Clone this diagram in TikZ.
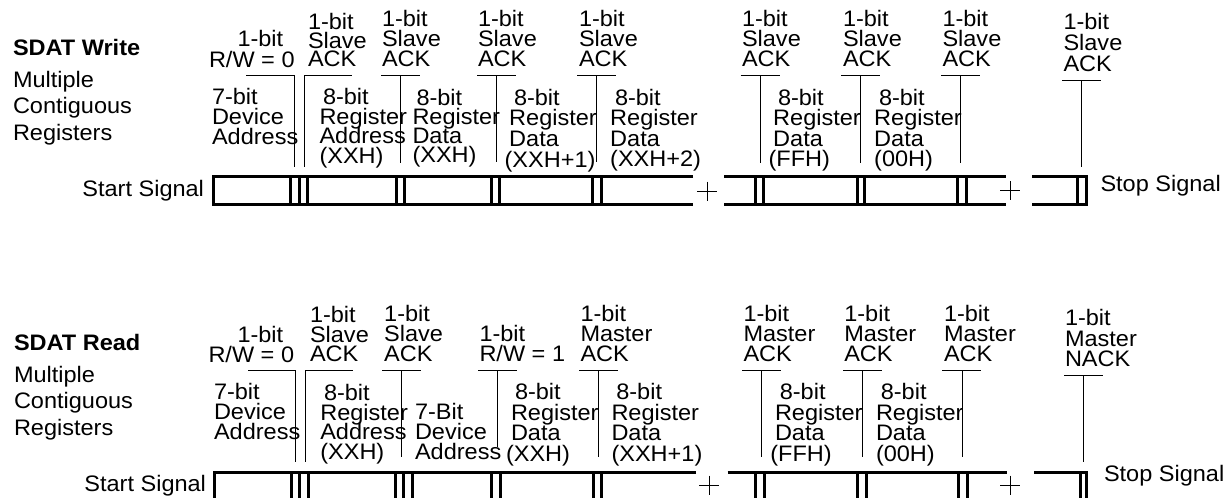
\documentclass[tikz,border=0pt]{standalone}
\usepackage{fontspec}
\setmainfont{Liberation Sans}[FakeStretch=1.05]
\newcommand\stk[2]{\vtop{\baselineskip=#1pt\lineskiplimit=-100pt\lineskip=0pt\halign{##\hfil\cr#2\crcr}}}
\tikzset{
  lbl/.style={anchor=base west, inner sep=0pt, outer sep=0pt, font=\fontsize{22.4}{20}\selectfont},
  bar/.style={line width=3pt, line join=miter},
  lead/.style={line width=1pt},
  crossmark/.style={line width=1pt}
}
\begin{document}
\begin{tikzpicture}[x=1pt,y=-1pt]
\useasboundingbox (0,0) rectangle (1229,498);
\fill[white] (0,0) rectangle (1229,498);
\clip (0,0) rectangle (1229,498);

% ================= WRITE =================
\node[lbl] (wtitle) at (13,55) {\bfseries SDAT Write};
\node[lbl] (wsub) at (13,87) {\stk{26.5}{Multiple\cr Contiguous\cr Registers}};
\node[lbl, anchor=base east] (wstart) at (204,196.7) {Start Signal};
\node[lbl] (wstop) at (1100.5,191.7) {Stop Signal};

\node[lbl] (wrw) at (209,46) {\stk{21}{\hspace*{28.5pt}1-bit\cr R/W = 0}};
\node[lbl] (wa1) at (308,29.6) {\stk{18.5}{1-bit\cr Slave\cr ACK}};
\node[lbl] (wa2) at (382,26) {\stk{20.2}{1-bit\cr Slave\cr ACK}};
\node[lbl] (wa3) at (478,26) {\stk{20.2}{1-bit\cr Slave\cr ACK}};
\node[lbl] (wa4) at (579,26) {\stk{20.2}{1-bit\cr Slave\cr ACK}};
\node[lbl] (wa5) at (742,26) {\stk{20.2}{1-bit\cr Slave\cr ACK}};
\node[lbl] (wa6) at (843,26) {\stk{20.2}{1-bit\cr Slave\cr ACK}};
\node[lbl] (wa7) at (942.5,26) {\stk{20.2}{1-bit\cr Slave\cr ACK}};
\node[lbl] (wa8) at (1063.5,29.3) {\stk{21.2}{1-bit\cr Slave\cr ACK}};

\node[lbl] (wdev) at (212,104.3) {\stk{20}{7-bit\cr Device\cr Address}};
\node[lbl] (wreg) at (319.5,104.8) {\stk{19.5}{\hspace*{3.5pt}8-bit\cr Register\cr Address\cr (XXH)}};
\node[lbl] (wd0) at (412.5,105.3) {\stk{19}{\hspace*{4pt}8-bit\cr Register\cr Data\cr (XXH)}};
\node[lbl] (wd1) at (509.2,105.3) {\stk{20.6}{\hspace*{4.8pt}8-bit\cr Register\cr Data\cr \hspace*{-4.6pt}(XXH+1)}};
\node[lbl] (wd2) at (610.2,105.3) {\stk{20.4}{\hspace*{4.8pt}8-bit\cr Register\cr Data\cr (XXH+2)}};
\node[lbl] (wdf) at (773.2,105.3) {\stk{20.4}{\hspace*{4.8pt}8-bit\cr Register\cr Data\cr \hspace*{-4.6pt}(FFH)}};
\node[lbl] (wdz) at (874.2,105.3) {\stk{20.4}{\hspace*{4.8pt}8-bit\cr Register\cr Data\cr (00H)}};

% leaders
\draw[lead] (246,75.3) -- (294.3,75.3) -- (294.3,166.7);
\draw[lead] (351.7,75.3) -- (304.3,75.3) -- (304.3,166.7);
\draw[lead] (381,75.3) -- (420,75.3) (400,75.3) -- (400,162.5);
\draw[lead] (477.3,75.3) -- (515.7,75.3) (496.7,75.3) -- (496.7,162.3);
\draw[lead] (577.3,75.3) -- (616,75.3) (596.7,75.3) -- (596.7,162.3);
\draw[lead] (740.7,75.3) -- (780,75.3) (760.3,75.3) -- (760.3,162.7);
\draw[lead] (841,75.3) -- (880,75.3) (860.3,75.3) -- (860.3,162.7);
\draw[lead] (941,75.3) -- (980,75.3) (960.3,75.3) -- (960.3,162.7);
\draw[lead] (1062,80.3) -- (1101,80.3) (1081.3,80.3) -- (1081.3,166.7);

% bars
\draw[bar] (693,176.7) -- (213.8,176.7) -- (213.8,204.3) -- (693,204.3);
\foreach \x in {290,299,307.5,396,404,491,499.5,592.5,601}
  \draw[bar] (\x,176.7) -- (\x,204.3);
\draw[bar] (724.3,176.7) -- (1006,176.7) (724.3,204.3) -- (1006,204.3);
\foreach \x in {755,763,857.5,864.5,957.5,966}
  \draw[bar] (\x,176.7) -- (\x,204.3);
\draw[bar] (1032.3,176.7) -- (1086,176.7) -- (1086,204.3) -- (1032.3,204.3);
\draw[bar] (1077.5,176.7) -- (1077.5,204.3);
\draw[crossmark] (697,191) -- (717,191) (707,181.5) -- (707,200.5);
\draw[crossmark] (1000,190.5) -- (1020,190.5) (1010,181) -- (1010,200);

% ================= READ =================
\node[lbl] (rtitle) at (14,350) {\bfseries SDAT Read};
\node[lbl] (rsub) at (14,382) {\stk{26.5}{Multiple\cr Contiguous\cr Registers}};
\node[lbl, anchor=base east] (rstart) at (206,491.7) {Start Signal};
\node[lbl] (rstop) at (1104,481.7) {Stop Signal};

\node[lbl] (rrw0) at (208.5,342) {\stk{20}{\hspace*{29pt}1-bit\cr R/W = 0}};
\node[lbl] (ra1) at (310,322.7) {\stk{19.5}{1-bit\cr Slave\cr ACK}};
\node[lbl] (ra2) at (384.2,321) {\stk{20.3}{1-bit\cr Slave\cr ACK}};
\node[lbl] (rrw1) at (479.5,341) {\stk{20.7}{1-bit\cr R/W = 1}};
\node[lbl] (rm1) at (580.5,321) {\stk{20.3}{1-bit\cr Master\cr ACK}};
\node[lbl] (rm2) at (743.5,321) {\stk{20.3}{1-bit\cr Master\cr ACK}};
\node[lbl] (rm3) at (844.3,321) {\stk{20.3}{1-bit\cr Master\cr ACK}};
\node[lbl] (rm4) at (944,321) {\stk{20.3}{1-bit\cr Master\cr ACK}};
\node[lbl] (rn) at (1065,325.3) {\stk{20.7}{1-bit\cr Master\cr NACK}};

\node[lbl] (rdev) at (214,399.3) {\stk{20}{7-bit\cr Device\cr Address}};
\node[lbl] (rreg) at (320.3,400.3) {\stk{19.8}{\hspace*{3.7pt}8-bit\cr Register\cr Address\cr (XXH)}};
\node[lbl] (rdev2) at (415,419.3) {\stk{20}{7-Bit\cr Device\cr Address}};
\node[lbl] (rd0) at (511,399.3) {\stk{20.7}{\hspace*{4pt}8-bit\cr Register\cr Data\cr \hspace*{-5pt}(XXH)}};
\node[lbl] (rd1) at (611.5,399.3) {\stk{20.7}{\hspace*{4.8pt}8-bit\cr Register\cr Data\cr (XXH+1)}};
\node[lbl] (rdf) at (775,399.3) {\stk{20.7}{\hspace*{4.8pt}8-bit\cr Register\cr Data\cr \hspace*{-4.6pt}(FFH)}};
\node[lbl] (rdz) at (876,399.3) {\stk{20.7}{\hspace*{4.8pt}8-bit\cr Register\cr Data\cr (00H)}};

% leaders
\draw[lead] (248.3,370.7) -- (295.7,370.7) -- (295.7,461.7);
\draw[lead] (352.7,370.7) -- (305.7,370.7) -- (305.7,461.7);
\draw[lead] (382.3,370.7) -- (420.7,370.7) (401.7,370.7) -- (401.7,456.7);
\draw[lead] (478.3,370.7) -- (516.7,370.7) (497.3,370.7) -- (497.3,446.7);
\draw[lead] (579.3,370.7) -- (618.3,370.7) (598.7,370.7) -- (598.7,456.7);
\draw[lead] (742.3,370.7) -- (781,370.7) (761.7,370.7) -- (761.7,456.7);
\draw[lead] (843.3,370.7) -- (881.7,370.7) (862.3,370.7) -- (862.3,456.7);
\draw[lead] (942.3,370.7) -- (980.7,370.7) (962.3,370.7) -- (962.3,456.7);
\draw[lead] (1064,375.7) -- (1102.7,375.7) (1083.3,375.7) -- (1083.3,461.7);

% bars
\draw[bar] (696,472) -- (214.3,472) -- (214.3,499.6) -- (696,499.6);
\foreach \x in {291.3,299.8,308.3,395.5,403.8,412.5,491.3,500,593,601.8}
  \draw[bar] (\x,472) -- (\x,499.6);
\draw[bar] (727.5,472) -- (1007.3,472) (727.5,499.6) -- (1007.3,499.6);
\foreach \x in {755.5,764.3,857,866.3,958.7,967}
  \draw[bar] (\x,472) -- (\x,499.6);
\draw[bar] (1034.3,472) -- (1086.7,472) -- (1086.7,499.6) -- (1034.3,499.6);
\draw[bar] (1080,472) -- (1080,499.6);
\draw[crossmark] (699,485) -- (719,485) (709,475.5) -- (709,494.5);
\draw[crossmark] (1000,485) -- (1020,485) (1010,475.5) -- (1010,494.5);
\end{tikzpicture}
\end{document}
